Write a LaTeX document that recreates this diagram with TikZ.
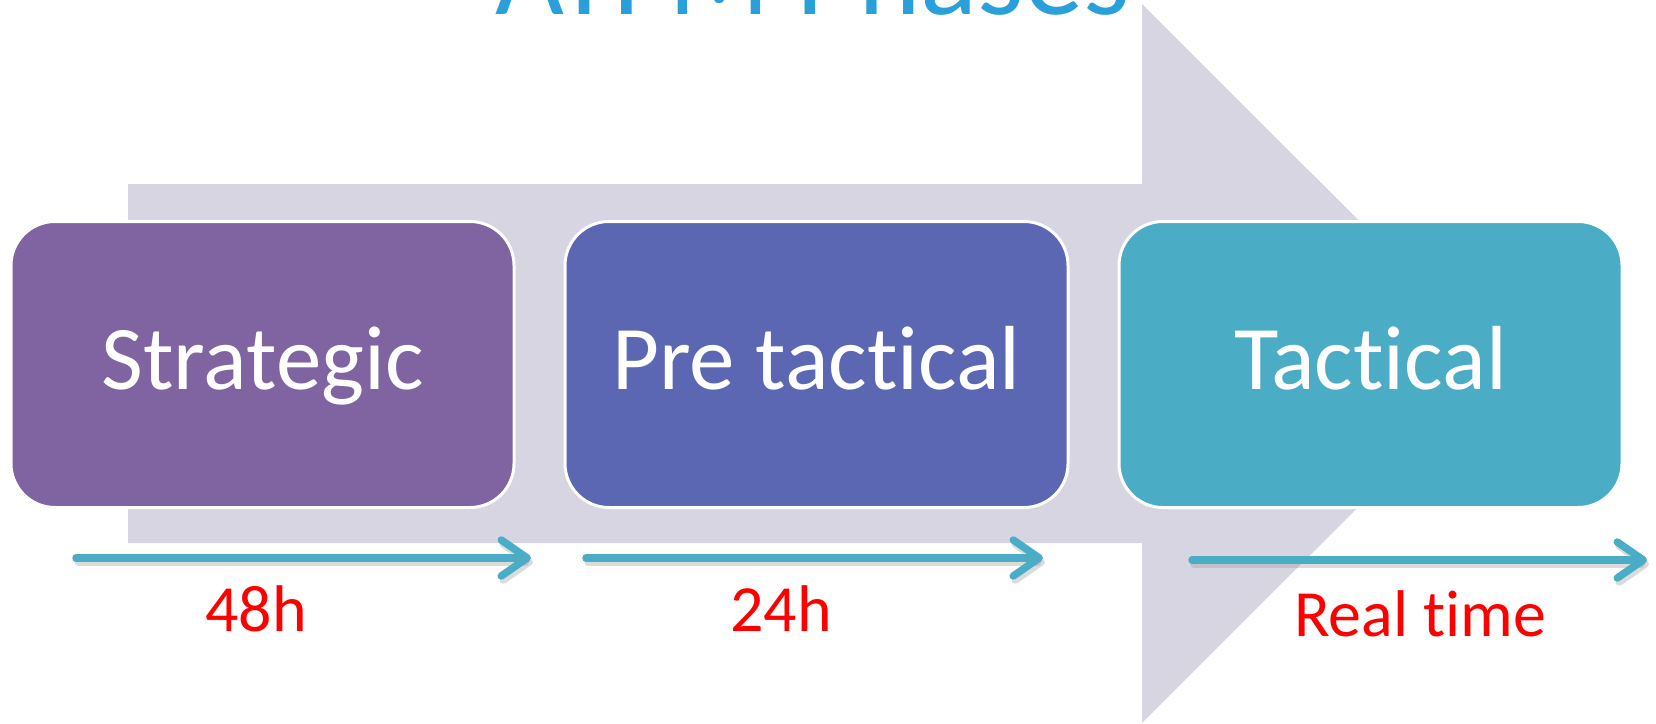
\documentclass[tikz,border=0pt]{standalone}
\usepackage{fontspec}
\setmainfont{Carlito}[Ligatures=NoCommon]
\usetikzlibrary{positioning,arrows.meta}

\definecolor{bandgray}{RGB}{216,213,227}
\definecolor{phasepurple}{RGB}{128,100,162}
\definecolor{phaseblue}{RGB}{91,103,178}
\definecolor{phaseteal}{RGB}{75,172,198}
\definecolor{titleblue}{RGB}{41,160,218}

\begin{document}
\begin{tikzpicture}[x=1pt, y=-1pt,
phasenode/.style={rectangle, rounded corners=44pt, draw=white, line width=3pt, text=white, minimum width=503pt, minimum height=286pt, text height=50pt, text depth=0pt, font=\fontsize{91}{100}\selectfont},
timearrow/.style={draw=phaseteal, line width=7.5pt, line cap=round, -{Straight Barb[length=26pt, width=36pt, round]}},
arrowshadow/.style={draw=black!40, opacity=0.35, line width=7.5pt, line cap=round, -{Straight Barb[length=26pt, width=36pt, round]}},
timelabel/.style={text=red, anchor=base, font=\fontsize{66}{80}\selectfont},
node distance=48pt
]
\path[use as bounding box, clip] (0,0) rectangle (1656,723);

%Band
\fill[bandgray] (128,184) -- (1142,184) -- (1142,4) -- (1502,363.5) -- (1142,723) -- (1142,543) -- (128,543) -- cycle;
\node[text=titleblue, anchor=base, font=\fontsize{119}{130}\selectfont] (title) at (813,14) {ATFM Phases};

%Nodes
\node[phasenode, fill=phasepurple] (Strategic)                          at (262.5,364.5) {Strategic};
\node[phasenode, fill=phaseblue]   (Pretactical) [right=of Strategic]                    {Pre tactical};
\node[phasenode, fill=phaseteal]   (Tactical)    [right=of Pretactical]                  {Tactical};

\coordinate (t1s) at (76,558);
\coordinate (t1e) at (531,558);
\coordinate (t2s) at (586,558);
\coordinate (t2e) at (1043,558);
\coordinate (t3s) at (1192,560);
\coordinate (t3e) at (1647,560);

%Lines
\draw[arrowshadow, transform canvas={shift={(2pt,-4pt)}}] (t1s) -- (t1e);
\draw[arrowshadow, transform canvas={shift={(2pt,-4pt)}}] (t2s) -- (t2e);
\draw[arrowshadow, transform canvas={shift={(2pt,-4pt)}}] (t3s) -- (t3e);
\draw[timearrow] (t1s) -- (t1e);
\draw[timearrow] (t2s) -- (t2e);
\draw[timearrow] (t3s) -- (t3e);

%Labels
\node[timelabel] (h48)  at (256,631)  {48h};
\node[timelabel] (h24)  at (781,631)  {24h};
\node[timelabel] (real) at (1420,636) {Real time};
\end{tikzpicture}
\end{document}
